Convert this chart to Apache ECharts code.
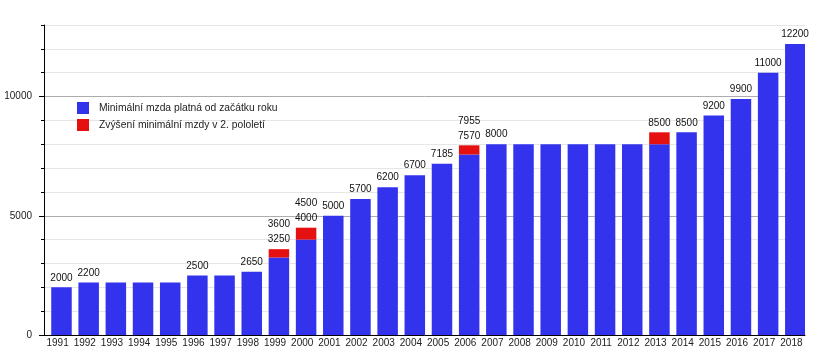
<!DOCTYPE html>
<html><head><meta charset="utf-8">
<script src="https://cdn.jsdelivr.net/npm/echarts@6/dist/echarts.min.js"></script>
<style>html,body{margin:0;padding:0;background:#fff}#c{width:832px;height:361px}</style>
</head><body><div id="c"></div>
<script>
const years = ['1991','1992','1993','1994','1995','1996','1997','1998','1999','2000','2001','2002','2003','2004','2005','2006','2007','2008','2009','2010','2011','2012','2013','2014','2015','2016','2017','2018'];
const baseWage = [2000,2200,2200,2200,2200,2500,2500,2650,3250,4000,5000,5700,6200,6700,7185,7570,8000,8000,8000,8000,8000,8000,8000,8500,9200,9900,11000,12200];
const midYearRaise = [0,0,0,0,0,0,0,0,350,500,0,0,0,0,0,385,0,0,0,0,0,0,500,0,0,0,0,0];
const topLabels = ['2000','2200','','','','2500','','2650','3600','4500','5000','5700','6200','6700','7185','7955','8000','','','','','','8500','8500','9200','9900','11000','12200'];
const lowerLabels = ['','','','','','','','','3250','4000','','','','','','7570','','','','','','','','','','','',''];
const yTickLabels = [0,5000,10000];
const seriesNames = ['Minimální mzda platná od začátku roku','Zvýšení minimální mzdy v 2. pololetí'];

const FONT = 'Liberation Sans';
const chart = echarts.init(document.getElementById('c'), null, {renderer:'canvas'});
chart.setOption({
  animation:false,
  backgroundColor:'#fff',
  textStyle:{fontFamily:FONT},
  grid:{left:44,right:27,top:25,bottom:26,containLabel:false},
  legend:{
    data:seriesNames, orient:'vertical', left:77, top:102, padding:0,
    itemWidth:12, itemHeight:12, itemGap:5, icon:'rect',
    textStyle:{fontFamily:FONT,fontSize:10.3,color:'#222',padding:[0,0,0,5]}
  },
  xAxis:{
    type:'category', data:years,
    axisLine:{lineStyle:{color:'#000',width:1}},
    axisTick:{show:false},
    axisLabel:{fontFamily:FONT,fontSize:10,color:'#222',margin:3,interval:0},
    splitLine:{show:false}
  },
  yAxis:[{
    type:'value', min:0, max:13000, interval:1000,
    axisLine:{show:true,lineStyle:{color:'#000',width:1}},
    axisTick:{show:true,length:3,lineStyle:{color:'#000'}},
    axisLabel:{fontFamily:FONT,fontSize:10,color:'#222',margin:12,customValues:yTickLabels,
      formatter:function(v){return String(v);}},
    splitLine:{show:true,lineStyle:{color:['#acacac','#e6e6e6','#e6e6e6','#e6e6e6','#e6e6e6'],width:1}}
  },{
    type:'value', min:0, max:13000, interval:1000, position:'left',
    axisLine:{show:false},
    axisTick:{show:true,length:5,lineStyle:{color:'#000'},customValues:yTickLabels},
    axisLabel:{show:false},
    splitLine:{show:false}
  }],
  series:[
    {name:'', type:'bar', data:[], barWidth:7.8, barGap:'0%', silent:true},
    {name:seriesNames[0], type:'bar', stack:'wage', data:baseWage, barWidth:20.5, barGap:'0%',
      itemStyle:{color:'#3333ee'}, label:{show:false}},
    {name:seriesNames[1], type:'bar', stack:'wage', data:midYearRaise, barWidth:20.5, barGap:'0%',
      itemStyle:{color:'#e51010'},
      label:{show:true, position:'top', distance:2, fontFamily:FONT, fontSize:10, color:'#111', lineHeight:15,
        formatter:function(p){const t=topLabels[p.dataIndex];const l=lowerLabels[p.dataIndex];return l? t+'\n'+l : t;}}}
  ]
});
</script></body></html>
